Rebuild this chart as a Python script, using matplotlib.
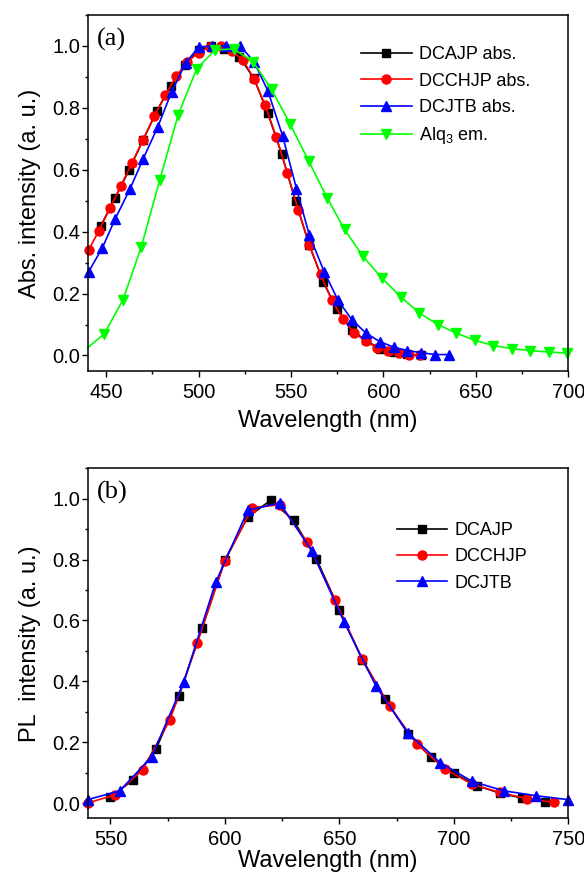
import matplotlib

matplotlib.use("Agg")
import matplotlib.pyplot as plt
from matplotlib.ticker import MultipleLocator

plt.rcParams["font.family"] = ["Liberation Sans", "DejaVu Sans"]
plt.rcParams["mathtext.fontset"] = "custom"
plt.rcParams["mathtext.rm"] = "Liberation Sans"
plt.rcParams["mathtext.it"] = "Liberation Sans:italic"

# (a) absorption spectra + Alq3 emission
dcajp_abs_x = [447, 455, 462.5, 470, 477.5, 485, 492.5, 500, 507, 514, 522, 530, 537.5, 545,
               552.5, 560, 567.5, 575, 583, 590.5, 598, 605.5, 613, 620.5]
dcajp_abs_y = [0.417, 0.51, 0.60, 0.696, 0.79, 0.87, 0.937, 0.987, 0.998, 0.99, 0.965, 0.895,
               0.782, 0.65, 0.498, 0.356, 0.237, 0.149, 0.081, 0.049, 0.022, 0.011, 0.005, 0.0]

dcchjp_abs_x = [440.5, 446, 452, 458, 464, 470, 476, 482, 488, 494, 500, 506, 512, 518, 524, 530,
                536, 542, 548, 554, 560, 566, 572, 578, 584, 590.5, 596.5, 602.5, 608.5, 614, 620]
dcchjp_abs_y = [0.34, 0.402, 0.475, 0.548, 0.622, 0.696, 0.773, 0.841, 0.903, 0.949, 0.978, 0.996,
                1.0, 0.982, 0.955, 0.894, 0.809, 0.707, 0.59, 0.469, 0.356, 0.262, 0.18, 0.119,
                0.074, 0.046, 0.025, 0.014, 0.008, 0.003, 0.0]

dcjtb_abs_x = [440.5, 448, 455, 463, 470, 478, 485.5, 493, 500, 507.5, 515, 522.5, 530, 537.5,
               545.5, 553, 560, 568, 575.5, 583, 590.5, 598, 605.5, 613, 620.5, 628, 635.5]
dcjtb_abs_y = [0.27, 0.348, 0.442, 0.539, 0.634, 0.739, 0.852, 0.944, 0.996, 1.0, 1.0, 1.0, 0.949,
               0.855, 0.709, 0.539, 0.388, 0.27, 0.178, 0.115, 0.073, 0.045, 0.027, 0.016, 0.009,
               0.003, 0.003]

alq3_em_x = [440, 449, 459, 469, 479, 489, 499, 509, 519, 529.5, 539.5, 549.5, 559.5, 569.5, 579,
             589, 599, 609.5, 619.5, 629.5, 639.5, 649.5, 659.5, 669.5, 679.5, 689.5, 699.5]
alq3_em_y = [0.025, 0.07, 0.178, 0.35, 0.566, 0.777, 0.926, 0.987, 0.99, 0.949, 0.86, 0.748, 0.629,
             0.51, 0.407, 0.32, 0.251, 0.189, 0.137, 0.1, 0.072, 0.049, 0.032, 0.022, 0.016,
             0.011, 0.008]

# (b) PL spectra
dcajp_pl_x = [550, 560, 570, 580, 590, 600, 610, 620, 630, 640, 650, 660, 670, 680, 690, 700,
              710, 720, 730, 740]
dcajp_pl_y = [0.02, 0.076, 0.179, 0.353, 0.576, 0.80, 0.94, 0.995, 0.929, 0.802, 0.636, 0.47,
              0.342, 0.228, 0.15, 0.098, 0.057, 0.033, 0.016, 0.005]

dcchjp_pl_x = [540, 552, 564, 576, 588, 600, 612, 624, 636, 648, 660, 672, 684, 696, 708, 720,
               732, 744]
dcchjp_pl_y = [0.0, 0.027, 0.109, 0.274, 0.527, 0.796, 0.971, 0.98, 0.857, 0.668, 0.473, 0.318,
               0.193, 0.112, 0.062, 0.035, 0.014, 0.002]

dcjtb_pl_x = [540, 554, 568, 582, 596, 610, 624, 638, 652, 666, 680, 694, 708, 722, 736, 750]
dcjtb_pl_y = [0.011, 0.04, 0.152, 0.397, 0.726, 0.962, 0.986, 0.828, 0.596, 0.384, 0.23, 0.133,
              0.071, 0.04, 0.024, 0.011]

GREEN = "#00ff00"


def style_axes(ax, xlim, ylabel, panel, xpad):
    ax.set_xlim(*xlim)
    ax.set_ylim(-0.05, 1.1)
    ax.xaxis.set_major_locator(MultipleLocator(50))
    ax.xaxis.set_minor_locator(MultipleLocator(25))
    ax.yaxis.set_major_locator(MultipleLocator(0.2))
    ax.yaxis.set_minor_locator(MultipleLocator(0.1))
    ax.yaxis.set_major_formatter(lambda v, p: f"{v:.1f}")
    ax.tick_params(which="both", direction="out", top=False, right=False, width=1.0, labelsize=14.5)
    ax.tick_params(which="major", length=4.5)
    ax.tick_params(which="minor", length=2.5)
    ax.tick_params(axis="x", pad=4)
    ax.tick_params(axis="y", pad=1)
    for spine in ax.spines.values():
        spine.set_linewidth(1.1)
    ax.set_xlabel("Wavelength (nm)", fontsize=17, labelpad=xpad)
    ax.set_ylabel(ylabel, fontsize=17, labelpad=8)
    ax.text(0.02, 0.93, panel, transform=ax.transAxes, ha="left", va="center",
            fontsize=19, family=["Liberation Serif", "DejaVu Serif"])


fig = plt.figure(figsize=(5.84, 8.77), dpi=100)
ax1 = fig.add_axes([0.150, 0.577, 0.823, 0.406])
ax2 = fig.add_axes([0.150, 0.067, 0.823, 0.399])

kw = dict(lw=1.2, clip_on=False)
ax1.plot(dcajp_abs_x, dcajp_abs_y, color="black", marker="s", ms=6, label="DCAJP abs.", **kw)
ax1.plot(dcchjp_abs_x, dcchjp_abs_y, color="red", marker="o", ms=6.5, label="DCCHJP abs.", **kw)
ax1.plot(dcjtb_abs_x, dcjtb_abs_y, color="blue", marker="^", ms=7, label="DCJTB abs.", **kw)
ax1.plot(alq3_em_x, alq3_em_y, color=GREEN, marker="v", ms=7, markevery=list(range(1, len(alq3_em_x))),
         label="Alq$_3$ em.", **kw)
style_axes(ax1, (440, 700), "Abs. intensity (a. u.)", "(a)", 6)
ax1.legend(loc="upper left", bbox_to_anchor=(0.569, 0.912), frameon=False, fontsize=13,
           handlelength=2.8, handletextpad=0.4, labelspacing=0.52, borderpad=0, borderaxespad=0)

ax2.plot(dcajp_pl_x, dcajp_pl_y, color="black", marker="s", ms=6, label="DCAJP", **kw)
ax2.plot(dcchjp_pl_x, dcchjp_pl_y, color="red", marker="o", ms=6.5, label="DCCHJP", **kw)
ax2.plot(dcjtb_pl_x, dcjtb_pl_y, color="blue", marker="^", ms=7, label="DCJTB", **kw)
style_axes(ax2, (540, 750), "PL  intensity (a. u.)", "(b)", 1)
ax2.legend(loc="upper left", bbox_to_anchor=(0.643, 0.847), frameon=False, fontsize=13,
           handlelength=2.8, handletextpad=0.4, labelspacing=0.52, borderpad=0, borderaxespad=0)

fig.savefig("out.png", dpi=100, facecolor="white")
